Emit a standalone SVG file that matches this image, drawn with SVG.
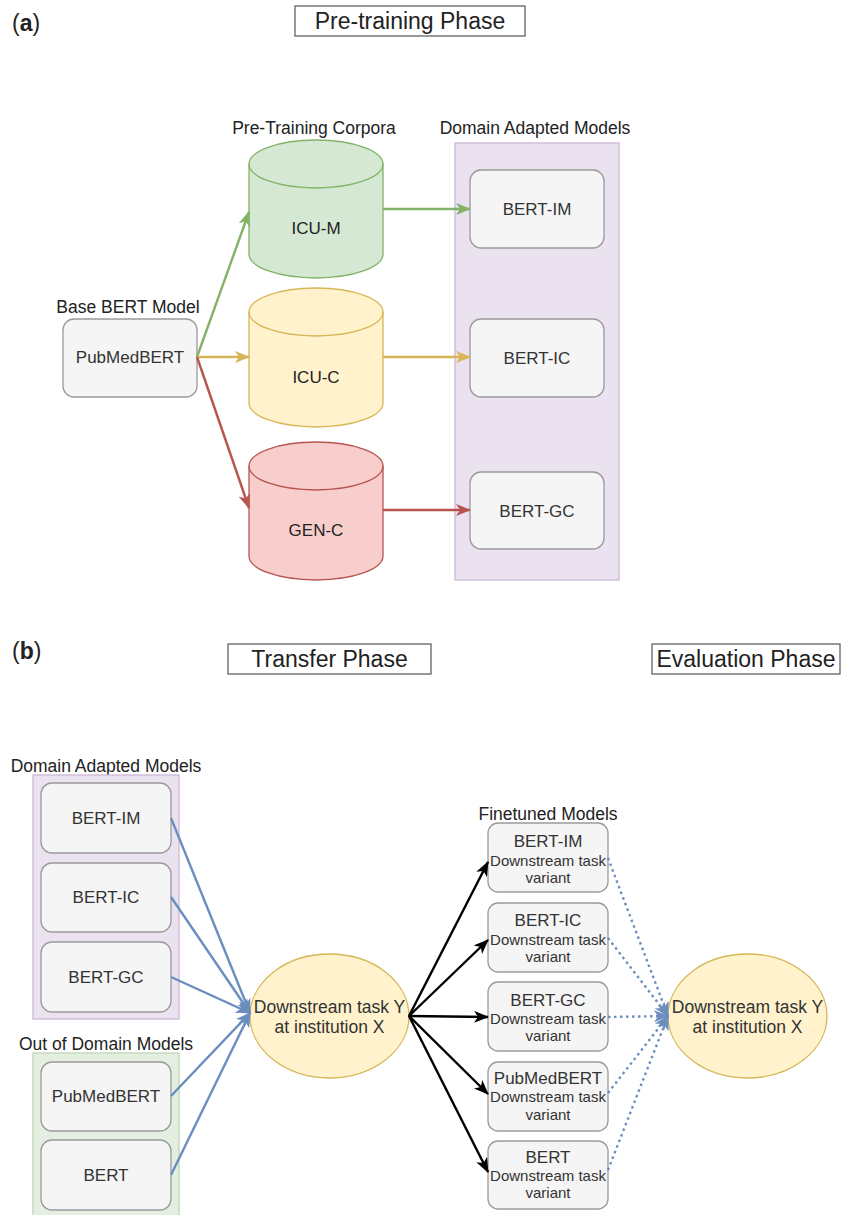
<svg xmlns="http://www.w3.org/2000/svg" width="842" height="1215" viewBox="0 0 842 1215">
<style>
text{font-family:"Liberation Sans",Arial,sans-serif;}
.title{font-size:23px;fill:#222;text-anchor:middle;}
.tbox{fill:#fff;stroke:#555;stroke-width:1.2;}
.lbl{font-size:17.5px;fill:#222;text-anchor:middle;}
.bt{font-size:17px;fill:#333;text-anchor:middle;}
.st{font-size:15px;fill:#333;text-anchor:middle;}
.box{fill:#f5f5f5;stroke:#9a9a9a;stroke-width:1.3;}
.ell{fill:#fff2cc;stroke:#d6b656;stroke-width:1.3;}
.c{fill:none;stroke-width:2.4;}
</style>
<defs>
<marker id="ag" viewBox="0 0 15 12" refX="14" refY="6" markerWidth="15" markerHeight="12" markerUnits="userSpaceOnUse" orient="auto"><path d="M0,0 L15,6 L0,12 L4,6 z" fill="#82b366"/></marker>
<marker id="ay" viewBox="0 0 15 12" refX="14" refY="6" markerWidth="15" markerHeight="12" markerUnits="userSpaceOnUse" orient="auto"><path d="M0,0 L15,6 L0,12 L4,6 z" fill="#d6b656"/></marker>
<marker id="ar" viewBox="0 0 15 12" refX="14" refY="6" markerWidth="15" markerHeight="12" markerUnits="userSpaceOnUse" orient="auto"><path d="M0,0 L15,6 L0,12 L4,6 z" fill="#b85450"/></marker>
<marker id="ab" viewBox="0 0 15 12" refX="14" refY="6" markerWidth="15" markerHeight="12" markerUnits="userSpaceOnUse" orient="auto"><path d="M0,0 L15,6 L0,12 L4,6 z" fill="#6c8ebf"/></marker>
<marker id="ak" viewBox="0 0 15 12" refX="14" refY="6" markerWidth="15" markerHeight="12" markerUnits="userSpaceOnUse" orient="auto"><path d="M0,0 L15,6 L0,12 L4,6 z" fill="#000"/></marker>
</defs>

<!-- Part (a) headers -->
<g id="label-a"><text x="12" y="31" style="font-size:23px;fill:#222">(<tspan font-weight="bold">a</tspan>)</text></g>
<g id="pretraining-phase"><rect class="tbox" x="295" y="6" width="230" height="30"/><text class="title" x="410" y="29">Pre-training Phase</text></g>
<g id="lbl-corpora"><text class="lbl" x="314" y="134">Pre-Training Corpora</text></g>
<g id="lbl-dam-a"><text class="lbl" x="535" y="134">Domain Adapted Models</text></g>
<g id="lbl-base"><text class="lbl" x="128" y="313">Base BERT Model</text></g>

<!-- Part (a) nodes -->
<g id="dam-container-a"><rect x="455" y="143" width="164" height="437" fill="#ebe2ef" stroke="#cbb8d6" stroke-width="1.3"/></g>
<g id="pubmedbert-a"><rect class="box" x="63" y="319" width="134" height="78" rx="11"/><text class="bt" x="130" y="363">PubMedBERT</text></g>
<g id="icu-m">
<path d="M249,164 A67,24 0 0 1 383,164 L383,254 A67,24 0 0 1 249,254 Z" fill="#d5e8d4" stroke="#82b366" stroke-width="1.3"/>
<path d="M249,164 A67,24 0 0 0 383,164" fill="none" stroke="#82b366" stroke-width="1.3"/>
<text class="bt" x="316" y="234" style="fill:#222">ICU-M</text></g>
<g id="icu-c">
<path d="M249,312 A67,24 0 0 1 383,312 L383,403 A67,24 0 0 1 249,403 Z" fill="#fff2cc" stroke="#d6b656" stroke-width="1.3"/>
<path d="M249,312 A67,24 0 0 0 383,312" fill="none" stroke="#d6b656" stroke-width="1.3"/>
<text class="bt" x="316" y="383" style="fill:#222">ICU-C</text></g>
<g id="gen-c">
<path d="M249,466 A67,24 0 0 1 383,466 L383,556 A67,24 0 0 1 249,556 Z" fill="#f8cecc" stroke="#b85450" stroke-width="1.3"/>
<path d="M249,466 A67,24 0 0 0 383,466" fill="none" stroke="#b85450" stroke-width="1.3"/>
<text class="bt" x="316" y="536" style="fill:#222">GEN-C</text></g>
<g id="bert-im-a"><rect class="box" x="470" y="170" width="134" height="78" rx="11"/><text class="bt" x="537" y="215">BERT-IM</text></g>
<g id="bert-ic-a"><rect class="box" x="470" y="319" width="134" height="78" rx="11"/><text class="bt" x="537" y="364">BERT-IC</text></g>
<g id="bert-gc-a"><rect class="box" x="470" y="472" width="134" height="77" rx="11"/><text class="bt" x="537" y="517">BERT-GC</text></g>

<!-- Part (b) headers -->
<g id="label-b"><text x="12" y="659" style="font-size:23px;fill:#222">(<tspan font-weight="bold">b</tspan>)</text></g>
<g id="transfer-phase"><rect class="tbox" x="228" y="644" width="203" height="30"/><text class="title" x="329.5" y="667">Transfer Phase</text></g>
<g id="evaluation-phase"><rect class="tbox" x="652" y="644" width="188" height="30"/><text class="title" x="746" y="667">Evaluation Phase</text></g>
<g id="lbl-dam-b"><text class="lbl" x="106" y="772">Domain Adapted Models</text></g>
<g id="lbl-ood"><text class="lbl" x="106" y="1050">Out of Domain Models</text></g>
<g id="lbl-ft"><text class="lbl" x="548" y="820">Finetuned Models</text></g>

<!-- Part (b) nodes -->
<g id="dam-container-b"><rect x="33" y="775" width="146" height="244" fill="#ebe2ef" stroke="#cbb8d6" stroke-width="1.3"/></g>
<g id="ood-container"><rect x="33" y="1053" width="146" height="170" fill="#e4efe1" stroke="#bcd6b4" stroke-width="1.3"/></g>
<g id="bert-im-b"><rect class="box" x="41" y="783" width="130" height="70" rx="11"/><text class="bt" x="106" y="824">BERT-IM</text></g>
<g id="bert-ic-b"><rect class="box" x="41" y="863" width="130" height="69" rx="11"/><text class="bt" x="106" y="903">BERT-IC</text></g>
<g id="bert-gc-b"><rect class="box" x="41" y="942" width="130" height="70" rx="11"/><text class="bt" x="106" y="983">BERT-GC</text></g>
<g id="pubmedbert-b"><rect class="box" x="41" y="1062" width="130" height="69" rx="11"/><text class="bt" x="106" y="1102">PubMedBERT</text></g>
<g id="bert-b"><rect class="box" x="41" y="1140" width="130" height="70" rx="11"/><text class="bt" x="106" y="1181">BERT</text></g>
<g id="task-transfer"><ellipse class="ell" cx="329.5" cy="1016" rx="79.5" ry="62"/><text class="lbl" x="329.5" y="1013" style="fill:#333">Downstream task Y</text><text class="lbl" x="329.5" y="1033" style="fill:#333">at institution X</text></g>
<g id="ft-bert-im"><rect class="box" x="488" y="823" width="120" height="69" rx="10"/><text class="bt" x="548" y="847">BERT-IM</text><text class="st" x="548" y="866">Downstream task</text><text class="st" x="548" y="883">variant</text></g>
<g id="ft-bert-ic"><rect class="box" x="488" y="903" width="120" height="69" rx="10"/><text class="bt" x="548" y="926">BERT-IC</text><text class="st" x="548" y="945">Downstream task</text><text class="st" x="548" y="962">variant</text></g>
<g id="ft-bert-gc"><rect class="box" x="488" y="982" width="120" height="69" rx="10"/><text class="bt" x="548" y="1006">BERT-GC</text><text class="st" x="548" y="1024">Downstream task</text><text class="st" x="548" y="1041">variant</text></g>
<g id="ft-pubmedbert"><rect class="box" x="488" y="1062" width="120" height="69" rx="10"/><text class="bt" x="548" y="1084">PubMedBERT</text><text class="st" x="548" y="1102">Downstream task</text><text class="st" x="548" y="1120">variant</text></g>
<g id="ft-bert"><rect class="box" x="488" y="1141" width="120" height="68" rx="10"/><text class="bt" x="548" y="1163">BERT</text><text class="st" x="548" y="1181">Downstream task</text><text class="st" x="548" y="1198">variant</text></g>
<g id="task-eval"><ellipse class="ell" cx="747.5" cy="1016" rx="79.5" ry="62"/><text class="lbl" x="747.5" y="1013" style="fill:#333">Downstream task Y</text><text class="lbl" x="747.5" y="1033" style="fill:#333">at institution X</text></g>

<!-- Connectors -->
<g id="connectors">
<path class="c" stroke="#82b366" d="M197,357 L249,212" marker-end="url(#ag)"/>
<path class="c" stroke="#d6b656" d="M197,357 L249,357" marker-end="url(#ay)"/>
<path class="c" stroke="#b85450" d="M197,357 L249,508" marker-end="url(#ar)"/>
<path class="c" stroke="#82b366" d="M383,209 L470,209" marker-end="url(#ag)"/>
<path class="c" stroke="#d6b656" d="M383,357 L470,357" marker-end="url(#ay)"/>
<path class="c" stroke="#b85450" d="M383,510 L470,510" marker-end="url(#ar)"/>

<path class="c" stroke="#6c8ebf" d="M171,818 L250,1013" marker-end="url(#ab)"/>
<path class="c" stroke="#6c8ebf" d="M171,897 L250,1013" marker-end="url(#ab)"/>
<path class="c" stroke="#6c8ebf" d="M171,977 L250,1013" marker-end="url(#ab)"/>
<path class="c" stroke="#6c8ebf" d="M171,1096 L250,1013" marker-end="url(#ab)"/>
<path class="c" stroke="#6c8ebf" d="M171,1175 L250,1013" marker-end="url(#ab)"/>

<path class="c" stroke="#000" d="M409,1016 L488,862" marker-end="url(#ak)"/>
<path class="c" stroke="#000" d="M409,1016 L488,940" marker-end="url(#ak)"/>
<path class="c" stroke="#000" d="M409,1016 L488,1017" marker-end="url(#ak)"/>
<path class="c" stroke="#000" d="M409,1016 L488,1094" marker-end="url(#ak)"/>
<path class="c" stroke="#000" d="M409,1016 L488,1172" marker-end="url(#ak)"/>

<path class="c" stroke="#6c8ebf" stroke-dasharray="2.5,3.5" d="M608,858 L668,1016" marker-end="url(#ab)"/>
<path class="c" stroke="#6c8ebf" stroke-dasharray="2.5,3.5" d="M608,938 L668,1016" marker-end="url(#ab)"/>
<path class="c" stroke="#6c8ebf" stroke-dasharray="2.5,3.5" d="M608,1017 L668,1016" marker-end="url(#ab)"/>
<path class="c" stroke="#6c8ebf" stroke-dasharray="2.5,3.5" d="M608,1093 L668,1016" marker-end="url(#ab)"/>
<path class="c" stroke="#6c8ebf" stroke-dasharray="2.5,3.5" d="M608,1170 L668,1016" marker-end="url(#ab)"/>
</g>
</svg>
